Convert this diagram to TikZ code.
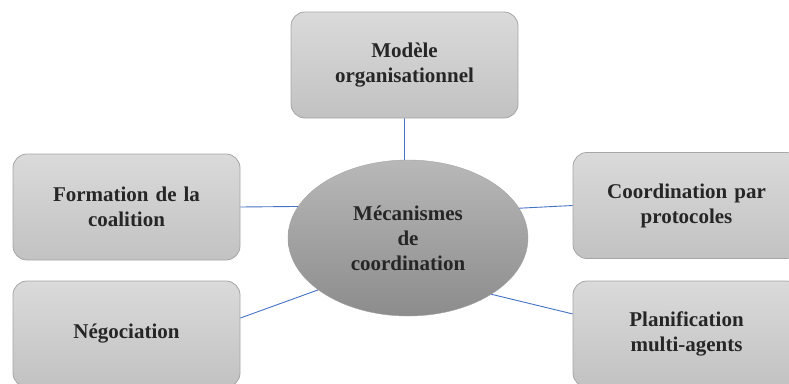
\documentclass[tikz,border=0pt]{standalone}
\usepackage{fontspec}
\setmainfont{Liberation Serif}
\usetikzlibrary{positioning, calc, shapes.geometric}
\definecolor{boxtop}{HTML}{DADADA}
\definecolor{boxbot}{HTML}{C2C2C2}
\definecolor{boxline}{HTML}{A6A6A6}
\definecolor{elltop}{HTML}{B8B8B8}
\definecolor{ellbot}{HTML}{8C8C8C}
\definecolor{linkblue}{HTML}{4472C4}
\definecolor{txt}{HTML}{262626}
\tikzset{
  carte/.style={
	rectangle, rounded corners=14pt, % rounded grey boxes
	draw=boxline, line width=0.8pt,
	top color=boxtop, bottom color=boxbot,
	minimum width=227pt, minimum height=106pt,
	text width=200pt, align=center, text=txt,
	font=\bfseries\fontsize{21}{25}\selectfont,
  },
  centre/.style={
	ellipse, draw=ellbot!80, line width=0.4pt, % the central node
	top color=elltop, bottom color=ellbot,
	minimum width=240pt, minimum height=156pt,
	align=center, text=txt, inner sep=0pt,
	font=\bfseries\fontsize{21}{25}\selectfont,
  },
  lien/.style={draw=linkblue, line width=0.9pt},
}

\begin{document}
\begin{tikzpicture}[x=1pt, y=-1pt]
\useasboundingbox (0,0) rectangle (789,383);
\clip (0,0) rectangle (789,383);

\node[centre] (meca) at (408,238) {Mécanismes\\de\\coordination};
\node[carte] (modele) at (404.5,65) {Modèle\\organisationnel};
\node[carte] (forma) at (126.5,207) {Formation de la\\coalition};
\node[carte] (nego) at (126.5,334) {Négociation};
\node[carte] (proto) at (686.5,205.5) {Coordination par\\protocoles};
\node[carte] (plani) at (686.5,334) {Planification\\multi-agents};

\draw[lien] (modele.south) -- (modele.south |- meca.north)
	(forma.east) -- (meca.164.3)
	(meca.15.7) -- (proto.west)
	(nego.8.5) -- (meca.210.5)
	(meca.326) -- (plani.170.5)
;
\end{tikzpicture}
\end{document}
